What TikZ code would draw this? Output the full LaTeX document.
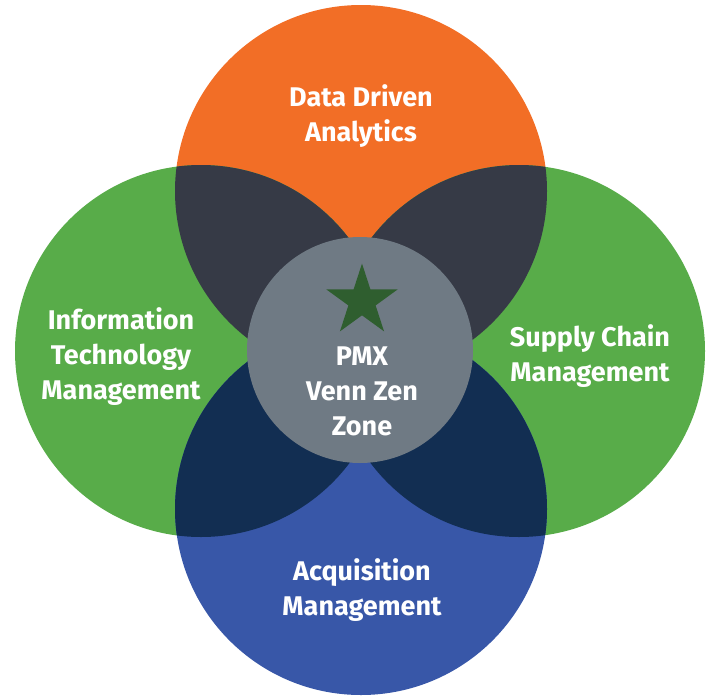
\documentclass[tikz,border=0pt]{standalone}
\usepackage{fontspec}
\setmainfont{Fira Sans}
\usepackage{xcolor}
\usetikzlibrary{shapes.geometric}

\definecolor{vorange}{HTML}{F26E26}
\definecolor{vgreen}{HTML}{58AC49}
\definecolor{vblue}{HTML}{3857A8}
\definecolor{vslate}{HTML}{363A46}
\definecolor{vnavy}{HTML}{122E52}
\definecolor{vgrey}{HTML}{6F7A84}
\definecolor{vstar}{HTML}{2F5E2F}

\begin{document}
\begin{tikzpicture}[x=1pt, y=-1pt,
    vlabel/.style={text=white, font=\fontsize{27}{35}\selectfont\bfseries, align=center}]
    \useasboundingbox (0,0) rectangle (714,696);

    % Centri dei cerchi
    \coordinate (ctop) at (361,191);
    \coordinate (cleft) at (201,351);
    \coordinate (cright) at (519,351);
    \coordinate (cbot) at (361,509);
    \coordinate (cmid) at (360,350);

    % Cerchi grandi
    \fill[vorange] (ctop) circle[radius=186pt];
    \fill[vgreen] (cleft) circle[radius=186pt];
    \fill[vgreen] (cright) circle[radius=186pt];
    \fill[vblue] (cbot) circle[radius=186pt];

    % Intersezioni
    \begin{scope}
        \clip (ctop) circle[radius=186pt];
        \fill[vslate] (cleft) circle[radius=186pt];
        \fill[vslate] (cright) circle[radius=186pt];
    \end{scope}
    \begin{scope}
        \clip (cbot) circle[radius=186pt];
        \fill[vnavy] (cleft) circle[radius=186pt];
        \fill[vnavy] (cright) circle[radius=186pt];
    \end{scope}

    % Cerchio centrale e stella
    \fill[vgrey] (cmid) circle[radius=113pt];
    \node[star, star points=5, star point ratio=2.618, fill=vstar, minimum size=75pt, inner sep=0pt] (stella) at (362,301) {};

    % Etichette
    \node[vlabel] (dda) at (361,116) {Data Driven\\Analytics};
    \node[vlabel] (itm) at (121,357) {Information\\Technology\\Management};
    \node[vlabel] (scm) at (590,356) {Supply Chain\\Management};
    \node[vlabel] (acq) at (362,590) {Acquisition\\Management};
    \node[vlabel] (pmx) at (362,391) {PMX\\Venn Zen\\Zone};
\end{tikzpicture}
\end{document}
